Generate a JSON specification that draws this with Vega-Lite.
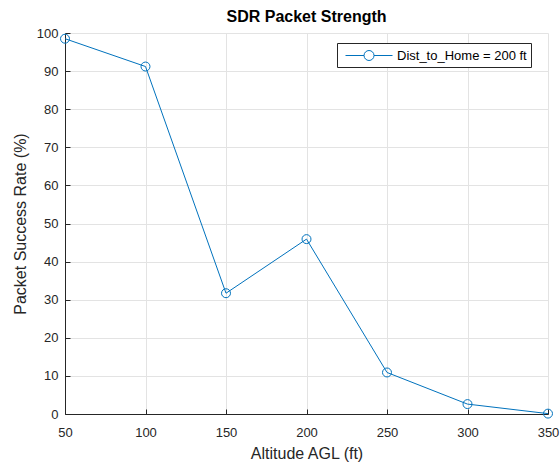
{
  "$schema": "https://vega.github.io/schema/vega-lite/v6.json",
  "width": 483,
  "height": 381,
  "autosize": {"type": "none"},
  "padding": {"left": 65, "top": 33, "right": 12, "bottom": 49},
  "background": "white",
  "title": {
    "text": "SDR Packet Strength",
    "font": "Liberation Sans",
    "fontSize": 16,
    "fontWeight": "bold",
    "color": "#000000",
    "anchor": "middle",
    "offset": 2
  },
  "data": {
    "values": [
      {"alt": 50, "rate": 98.5, "series": "Dist_to_Home = 200 ft"},
      {"alt": 100, "rate": 91.2, "series": "Dist_to_Home = 200 ft"},
      {"alt": 150, "rate": 31.7, "series": "Dist_to_Home = 200 ft"},
      {"alt": 200, "rate": 45.9, "series": "Dist_to_Home = 200 ft"},
      {"alt": 250, "rate": 10.9, "series": "Dist_to_Home = 200 ft"},
      {"alt": 300, "rate": 2.6, "series": "Dist_to_Home = 200 ft"},
      {"alt": 350, "rate": 0.1, "series": "Dist_to_Home = 200 ft"}
    ]
  },
  "mark": {
    "type": "line",
    "strokeWidth": 1,
    "point": {"filled": false, "size": 80, "strokeWidth": 1}
  },
  "encoding": {
    "x": {
      "field": "alt",
      "type": "quantitative",
      "scale": {"domain": [50, 350], "nice": false, "zero": false},
      "axis": {
        "title": "Altitude AGL (ft)",
        "values": [50, 100, 150, 200, 250, 300, 350],
        "labelFlush": false,
        "titleFontSize": 16,
        "titleFontWeight": "normal",
        "titlePadding": 6,
        "labelPadding": 17
      }
    },
    "y": {
      "field": "rate",
      "type": "quantitative",
      "scale": {"domain": [0, 100], "nice": false},
      "axis": {
        "title": "Packet Success Rate (%)",
        "values": [0, 10, 20, 30, 40, 50, 60, 70, 80, 90, 100],
        "labelFlush": false,
        "titleFontSize": 16,
        "titleFontWeight": "normal",
        "titlePadding": 8,
        "labelPadding": 12
      }
    },
    "color": {
      "field": "series",
      "type": "nominal",
      "scale": {"range": ["#0072BD"]},
      "legend": {
        "title": null,
        "orient": "none",
        "legendX": 272,
        "legendY": 10,
        "strokeColor": "#262626",
        "fillColor": "white",
        "padding": 4,
        "labelFontSize": 13,
        "labelFont": "Liberation Sans",
        "labelColor": "#000000",
        "symbolType": "M -0.5 0 L 1.815 0 M 3.065 0 L 5.375 0 M 3.065 0 A 0.625 0.625 0 1 1 1.815 0 A 0.625 0.625 0 1 1 3.065 0",
        "symbolSize": 256,
        "symbolStrokeWidth": 1,
        "symbolFillColor": "transparent",
        "labelOffset": 39
      }
    }
  },
  "config": {
    "view": {"stroke": null},
    "font": "Liberation Sans",
    "axis": {
      "labelFont": "Liberation Sans",
      "titleFont": "Liberation Sans",
      "labelFontSize": 13,
      "labelColor": "#262626",
      "titleColor": "#262626",
      "domainColor": "#262626",
      "tickColor": "#262626",
      "tickSize": -5,
      "gridColor": "#e3e3e3",
      "grid": true
    }
  }
}
